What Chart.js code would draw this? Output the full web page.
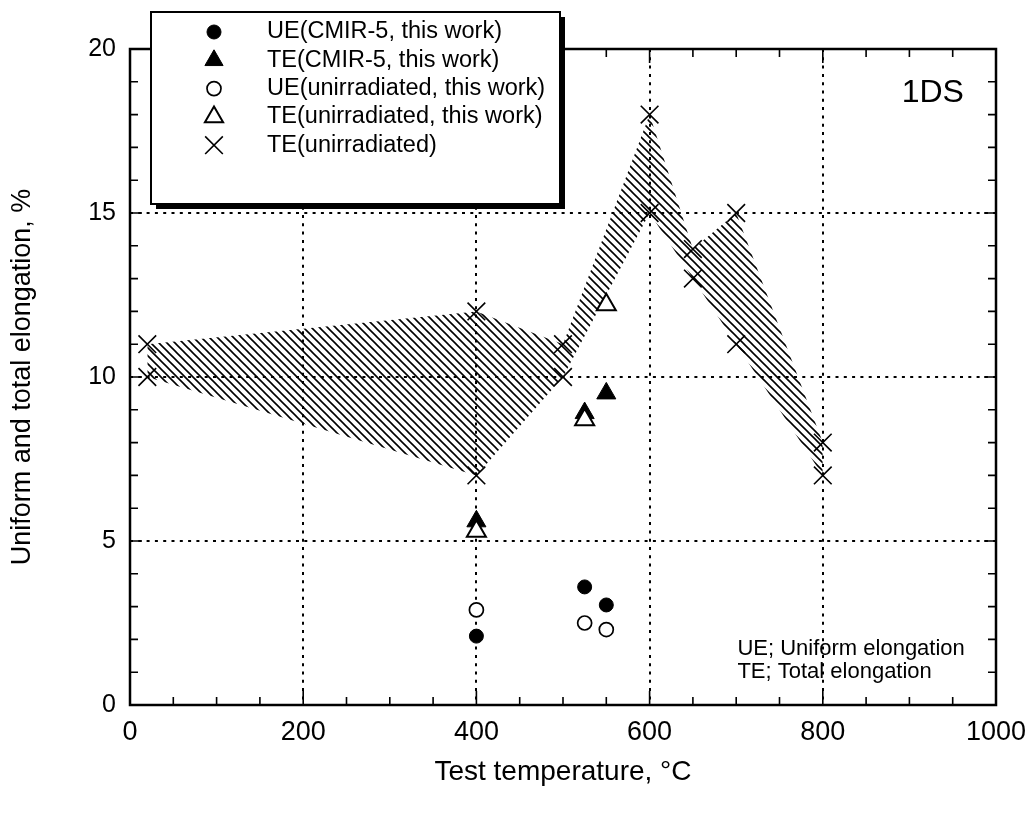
<!DOCTYPE html>
<html>
<head>
<meta charset="utf-8">
<script src="https://cdn.jsdelivr.net/npm/chart.js@4.4.1/dist/chart.umd.min.js"></script>
<style>
  html, body { margin: 0; padding: 0; background: #ffffff; }
  canvas { display: block; }
</style>
</head>
<body>
<canvas id="chart" width="1029" height="817"></canvas>
<script>
// Axis ticks
const temperatureTicks = [0, 200, 400, 600, 800, 1000];
const elongationTicks = [0, 5, 10, 15, 20];

// CMIR-5 irradiated specimens (this work)
const cmirTemp = [400, 525, 550];
const cmirUE = [2.1, 3.6, 3.05];
const cmirTE = [5.6, 8.9, 9.5];

// Unirradiated specimens (this work)
const unirrTemp = [400, 525, 550];
const unirrUE = [2.9, 2.5, 2.3];
const unirrTE = [5.3, 8.7, 12.2];

// Unirradiated total elongation, scatter band limits
const bandTemp = [20, 400, 500, 600, 650, 700, 800];
const bandUpper = [11, 12, 11, 18, 13.9, 15, 8];
const bandLower = [10, 7, 10, 15, 13, 11, 7];

const legendLabels = [
  'UE(CMIR-5, this work)',
  'TE(CMIR-5, this work)',
  'UE(unirradiated, this work)',
  'TE(unirradiated, this work)',
  'TE(unirradiated)'
];
const noteLines = ['UE; Uniform elongation', 'TE; Total elongation'];
const panelLabel = '1DS';

const FONT = "'Liberation Sans', Arial, sans-serif";

function pts(xs, ys) { return xs.map((x, i) => ({ x: x, y: ys[i] })); }

// diagonal hatching for the scatter band
function hatchPattern() {
  const s = 8;
  const c = document.createElement('canvas');
  c.width = s; c.height = s;
  const g = c.getContext('2d');
  g.strokeStyle = '#000';
  g.lineWidth = 1.6;
  g.beginPath();
  g.moveTo(-2, -2); g.lineTo(s + 2, s + 2);
  g.moveTo(-2, s - 2); g.lineTo(2, s + 2);
  g.moveTo(s - 2, -2); g.lineTo(s + 2, 2);
  g.stroke();
  return g.createPattern(c, 'repeat');
}

const ctx = document.getElementById('chart').getContext('2d');

// frame with inward ticks on all four sides
const framePlugin = {
  id: 'frame',
  beforeDatasetsDraw(chart) {
    const { ctx, chartArea: a, scales: { x, y } } = chart;
    ctx.save();
    ctx.strokeStyle = '#000';
    ctx.lineCap = 'butt';
    ctx.lineWidth = 1.6;
    ctx.beginPath();
    for (let t = 50; t < 1000; t += 50) {
      const px = x.getPixelForValue(t);
      const len = (t % 200 === 0) ? 14 : 8;
      ctx.moveTo(px, a.bottom); ctx.lineTo(px, a.bottom - len);
      ctx.moveTo(px, a.top); ctx.lineTo(px, a.top + len);
    }
    for (let v = 1; v < 20; v += 1) {
      const py = y.getPixelForValue(v);
      const len = (v % 5 === 0) ? 12 : 8;
      ctx.moveTo(a.left, py); ctx.lineTo(a.left + len, py);
      ctx.moveTo(a.right, py); ctx.lineTo(a.right - len, py);
    }
    ctx.stroke();
    ctx.lineWidth = 2.5;
    ctx.strokeRect(a.left, a.top, a.right - a.left, a.bottom - a.top);
    ctx.restore();
  }
};

// boxed legend, panel label and abbreviations note
const overlayPlugin = {
  id: 'overlay',
  afterDraw(chart) {
    const { ctx, scales: { x, y } } = chart;
    ctx.save();
    // legend box with drop shadow
    const bx = 151, by = 12, bw = 409, bh = 192;
    ctx.fillStyle = '#000';
    ctx.fillRect(bx + 5, by + 5, bw, bh);
    ctx.fillStyle = '#fff';
    ctx.fillRect(bx, by, bw, bh);
    ctx.strokeStyle = '#000';
    ctx.lineWidth = 2;
    ctx.strokeRect(bx, by, bw, bh);

    const items = chart.data.datasets.filter(d => d.label);
    ctx.font = '23.5px ' + FONT;
    ctx.textBaseline = 'middle';
    ctx.textAlign = 'left';
    items.forEach((d, i) => {
      const cy = 32 + i * 28.3;
      ctx.fillStyle = d.backgroundColor;
      ctx.strokeStyle = d.borderColor;
      ctx.lineWidth = d.borderWidth;
      Chart.helpers.drawPoint(ctx, {
        pointStyle: d.pointStyle,
        radius: d.legendRadius,
        rotation: 0,
        borderWidth: d.borderWidth
      }, 214, cy);
      ctx.fillStyle = '#000';
      ctx.fillText(d.label, 267, cy);
    });

    // panel label
    ctx.font = '32px ' + FONT;
    ctx.textAlign = 'right';
    ctx.fillStyle = '#000';
    ctx.fillText(panelLabel, x.getPixelForValue(963), y.getPixelForValue(18.65));

    // abbreviations
    ctx.font = '22px ' + FONT;
    ctx.textAlign = 'left';
    const w = ctx.measureText(noteLines[0]).width;
    const nx = x.getPixelForValue(964) - w;
    ctx.fillText(noteLines[0], nx, y.getPixelForValue(1.7));
    ctx.fillText(noteLines[1], nx, y.getPixelForValue(1.0));
    ctx.restore();
  }
};

new Chart(ctx, {
  type: 'scatter',
  data: {
    datasets: [
      {
        label: legendLabels[0],
        data: pts(cmirTemp, cmirUE),
        pointStyle: 'circle', pointRadius: 7, legendRadius: 7,
        backgroundColor: '#000', borderColor: '#000', borderWidth: 1,
        order: 1
      },
      {
        label: legendLabels[1],
        data: pts(cmirTemp, cmirTE),
        pointStyle: 'triangle', pointRadius: 11, legendRadius: 10.5,
        backgroundColor: '#000', borderColor: '#000', borderWidth: 1,
        order: 2
      },
      {
        label: legendLabels[2],
        data: pts(unirrTemp, unirrUE),
        pointStyle: 'circle', pointRadius: 7, legendRadius: 7,
        backgroundColor: '#fff', borderColor: '#000', borderWidth: 1.7,
        order: 0
      },
      {
        label: legendLabels[3],
        data: pts(unirrTemp, unirrTE),
        pointStyle: 'triangle', pointRadius: 11, legendRadius: 10.5,
        backgroundColor: '#fff', borderColor: '#000', borderWidth: 2,
        order: 0
      },
      {
        label: legendLabels[4],
        data: pts(bandTemp, bandUpper).concat(pts(bandTemp, bandLower)),
        pointStyle: 'crossRot', pointRadius: 12.5, legendRadius: 12.5,
        backgroundColor: '#000', borderColor: '#000', borderWidth: 1.6,
        order: 3
      },
      {
        type: 'line',
        data: pts(bandTemp, bandUpper),
        showLine: true, borderWidth: 0, pointRadius: 0, tension: 0,
        borderColor: 'rgba(0,0,0,0)',
        backgroundColor: hatchPattern(),
        fill: '+1',
        order: 10
      },
      {
        type: 'line',
        data: pts(bandTemp, bandLower),
        showLine: true, borderWidth: 0, pointRadius: 0, tension: 0,
        borderColor: 'rgba(0,0,0,0)',
        fill: false,
        order: 11
      }
    ]
  },
  options: {
    responsive: false,
    animation: false,
    devicePixelRatio: 1,
    layout: { padding: { top: 49, right: 33, left: 0, bottom: 0 } },
    plugins: {
      legend: { display: false },
      tooltip: { enabled: false }
    },
    scales: {
      x: {
        type: 'linear',
        min: temperatureTicks[0],
        max: temperatureTicks[temperatureTicks.length - 1],
        afterBuildTicks(s) { s.ticks = temperatureTicks.map(v => ({ value: v })); },
        afterFit(s) { s.height = 112; s.paddingLeft = 0; s.paddingRight = 0; },
        ticks: {
          color: '#000', font: { family: FONT, size: 27 }, padding: 11, maxRotation: 0,
          callback: v => String(v)
        },
        grid: {
          drawTicks: false,
          lineWidth: 2,
          color: c => (c.tick && c.tick.value > 0 && c.tick.value < 1000) ? '#000' : 'rgba(0,0,0,0)'
        },
        border: { display: false, dash: [3, 5.3] },
        title: {
          display: true, text: 'Test temperature, °C', color: '#000',
          font: { family: FONT, size: 28 }, padding: { top: 0, bottom: 28 }
        }
      },
      y: {
        type: 'linear',
        min: elongationTicks[0],
        max: elongationTicks[elongationTicks.length - 1],
        afterBuildTicks(s) { s.ticks = elongationTicks.map(v => ({ value: v })); },
        afterFit(s) { s.width = 130; s.paddingTop = 0; s.paddingBottom = 0; },
        ticks: {
          color: '#000', font: { family: FONT, size: 25 }, padding: 14,
          callback: v => String(v)
        },
        grid: {
          drawTicks: false,
          lineWidth: 2,
          color: c => (c.tick && c.tick.value > 0 && c.tick.value < 20) ? '#000' : 'rgba(0,0,0,0)'
        },
        border: { display: false, dash: [3, 5.3] },
        title: {
          display: true, text: 'Uniform and total elongation, %', color: '#000',
          font: { family: FONT, size: 27 }, padding: { top: 6, bottom: 0 }
        }
      }
    }
  },
  plugins: [framePlugin, overlayPlugin]
});
</script>
</body>
</html>
